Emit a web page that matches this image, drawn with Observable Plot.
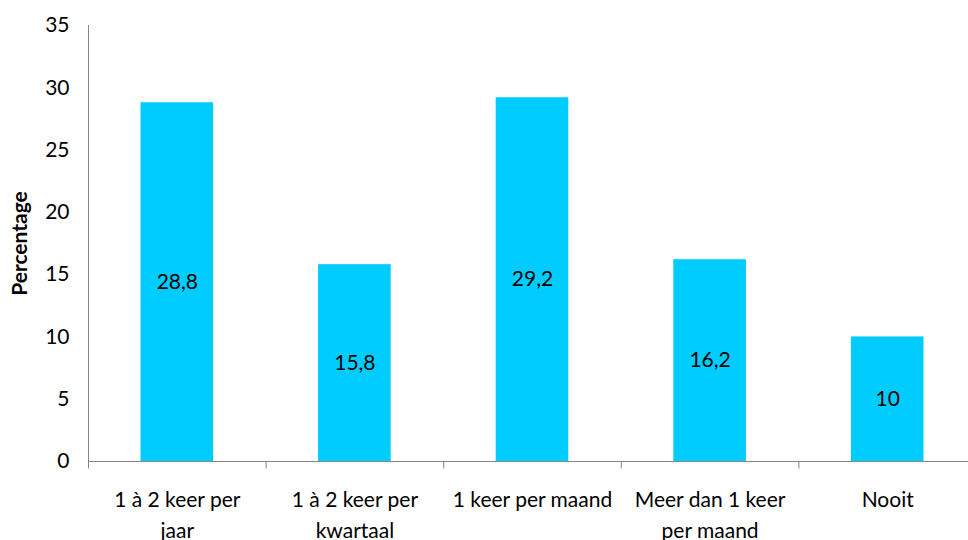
<!DOCTYPE html>
<html>
<head>
<meta charset="utf-8">
<script src="https://cdn.jsdelivr.net/npm/d3@7"></script>
<script src="https://cdn.jsdelivr.net/npm/@observablehq/plot@0.6"></script>
<style>
  html, body { margin: 0; padding: 0; background: #fff; overflow: hidden; }
  #chart svg { display: block; overflow: visible; }
</style>
</head>
<body>
<div id="chart"></div>
<script>
// Frequency categories and their percentages
const categories = [
  "1 à 2 keer per jaar",
  "1 à 2 keer per kwartaal",
  "1 keer per maand",
  "Meer dan 1 keer per maand",
  "Nooit"
];
const values = [28.8, 15.8, 29.2, 16.2, 10];
// Axis labels as they wrap under each bar
const tickLabels = [
  "1 à 2 keer per\njaar",
  "1 à 2 keer per\nkwartaal",
  "1 keer per maand",
  "Meer dan 1 keer\nper maand",
  "Nooit"
];
const yTicks = [0, 5, 10, 15, 20, 25, 30, 35];

const data = categories.map((c, i) => ({cat: c, value: values[i], label: tickLabels[i]}));

const font = "Lato, 'Open Sans', sans-serif";
const axisGray = "#868686";
const left = 88, right = 976;
const step = (right - left) / categories.length;
const first = () => categories[0];

const chart = Plot.plot({
  width: 968,
  height: 540,
  marginTop: 25,
  marginBottom: 79,
  marginLeft: left,
  marginRight: 0,
  style: {fontFamily: font, color: "#000", background: "#fff"},
  x: {type: "band", domain: categories, range: [left, right], padding: 0, round: false, axis: null},
  y: {domain: [0, 35], axis: null},
  marks: [
    Plot.barY(data, {
      x: "cat", y: "value", fill: "#00CCFF",
      insetLeft: 52.5, insetRight: 52.5
    }),
    // value labels at mid-height of each bar
    Plot.text(data, {
      x: "cat", y: d => d.value / 2,
      text: d => String(d.value).replace(".", ","),
      fontSize: 21, fill: "#000"
    }),
    // y axis: line, ticks, labels
    Plot.ruleX(yTicks.slice(0, 1), {x: first, dx: -step / 2, y1: 0, y2: 35, stroke: axisGray, strokeWidth: 1}),
    Plot.tickY(yTicks, {
      y: d => d, x: first, dx: -step / 2 - 8,
      insetLeft: 0, insetRight: step - 8,
      stroke: axisGray, strokeWidth: 1
    }),
    Plot.text(yTicks, {
      x: first, y: d => d, dx: -step / 2 - 19,
      text: d => String(d), textAnchor: "end", fontSize: 21, fill: "#000"
    }),
    // x axis: baseline and boundary ticks
    Plot.ruleY([0], {stroke: axisGray, strokeWidth: 1}),
    Plot.ruleX(categories, {x: d => d, dx: -step / 2, y1: 0, y2: -0.6, stroke: axisGray, strokeWidth: 1}),
    Plot.text(data, {
      x: "cat", y: 0, dy: 24, text: "label",
      lineAnchor: "top", lineHeight: 1.45, fontSize: 21, fill: "#000"
    }),
    // y axis title
    Plot.text(["Percentage"], {
      frameAnchor: "left", dx: -left + 20, rotate: -90, textAnchor: "middle",
      fontSize: 21, fontWeight: "bold", fill: "#000"
    })
  ]
});

document.getElementById("chart").appendChild(chart);
</script>
</body>
</html>
